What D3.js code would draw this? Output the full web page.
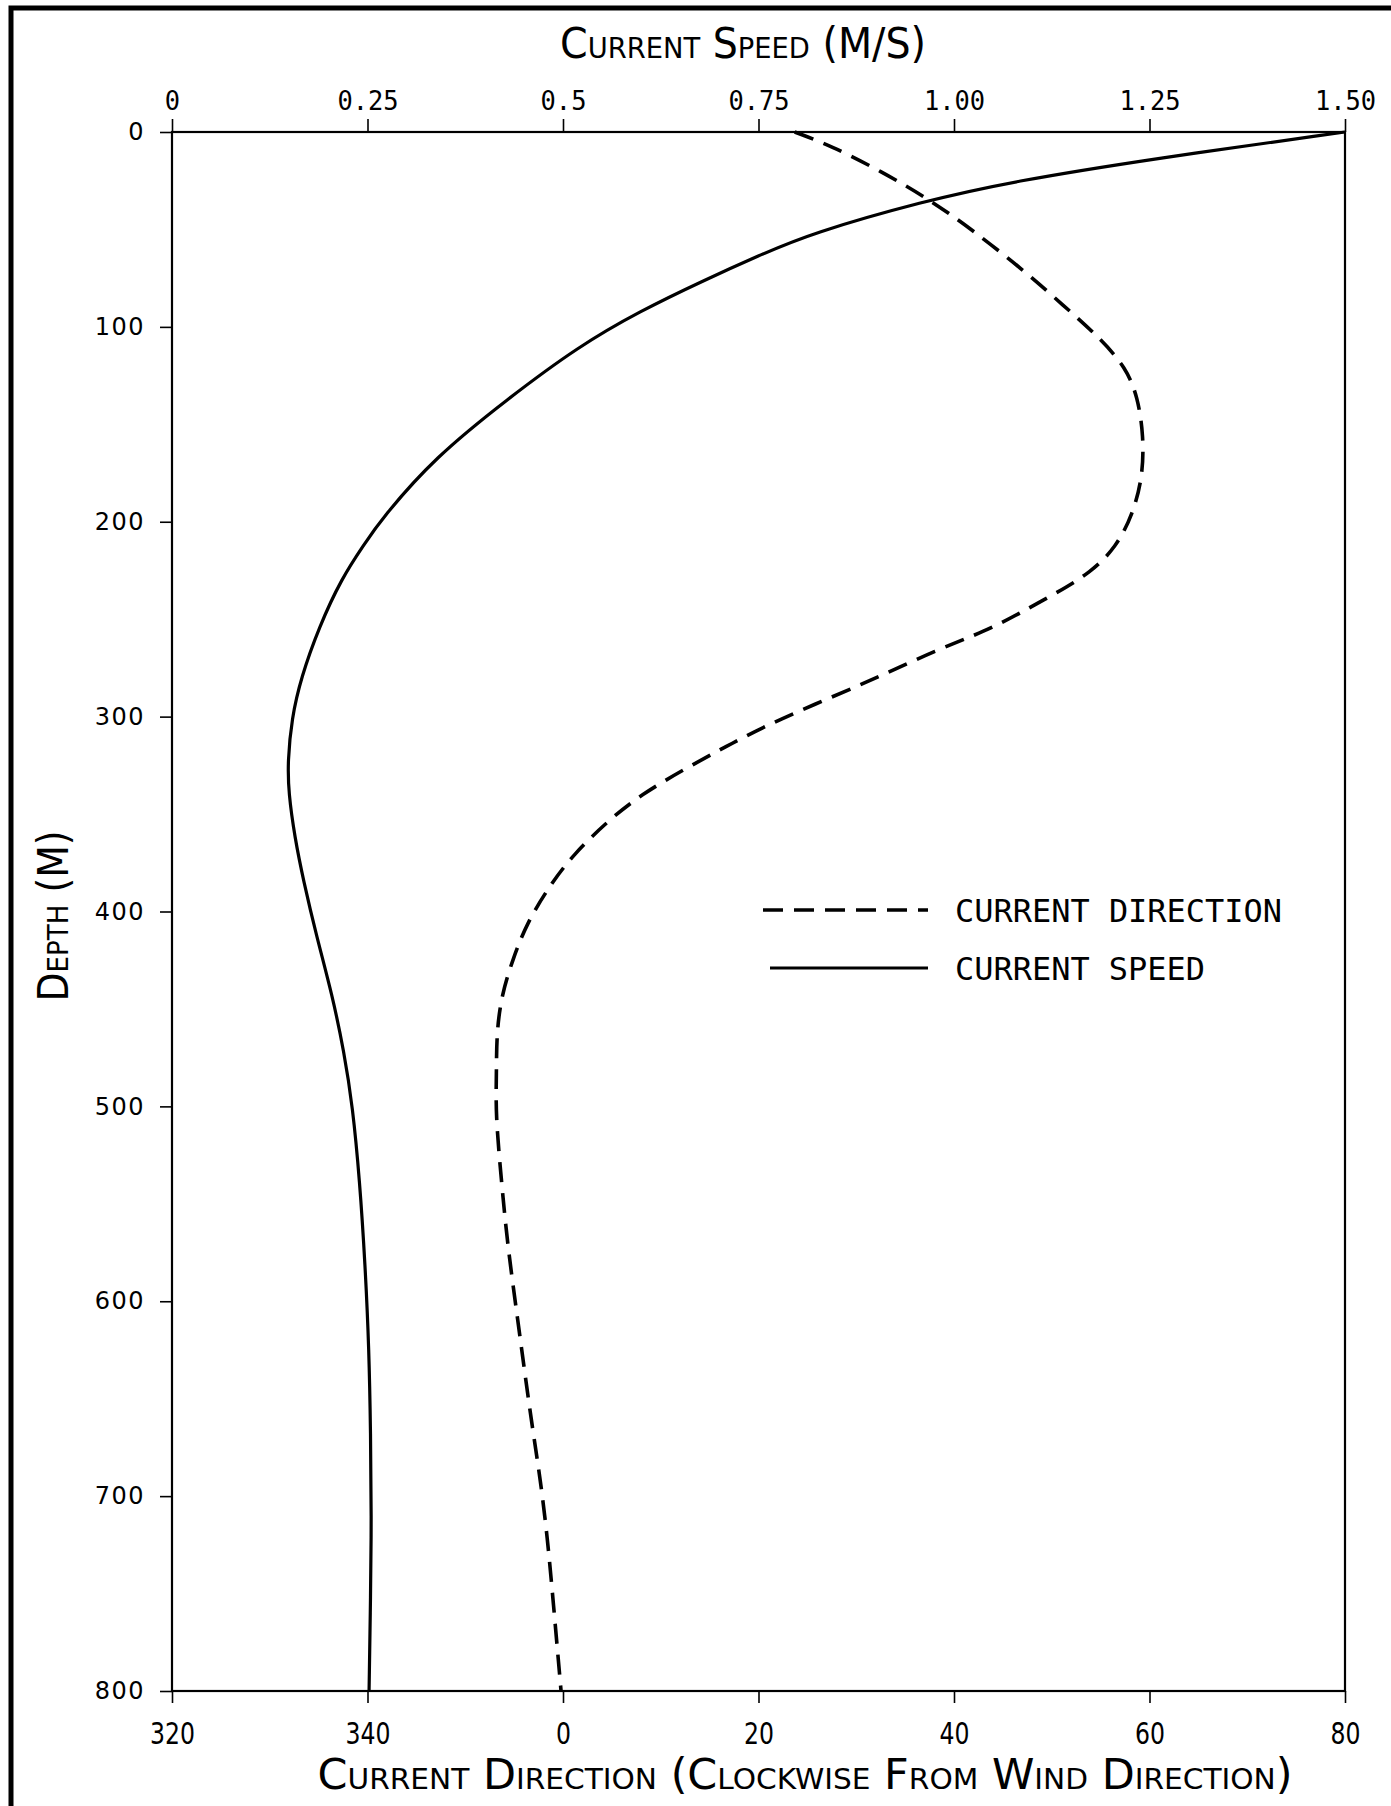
<!DOCTYPE html>
<html>
<head>
<meta charset="utf-8">
<script src="https://cdn.jsdelivr.net/npm/d3@7/dist/d3.min.js"></script>
<style>
  body { margin: 0; background: #fff; }
  svg { display: block; }
</style>
</head>
<body>
<div id="chart"></div>
<script>
// depth (m) and current speed (m/s)
const speedDepth = [0, 13.5, 25.5, 35.5, 52, 63.5, 76, 92, 110, 137, 167, 198, 212, 229, 254, 280, 301, 323, 339, 362, 384, 413, 443, 472, 500, 538, 581, 625, 668, 711, 750, 800];
const speedValue = [1.50, 1.258, 1.073, 0.961, 0.817, 0.750, 0.681, 0.598, 0.520, 0.429, 0.336, 0.269, 0.245, 0.217, 0.188, 0.165, 0.153, 0.148, 0.149, 0.157, 0.168, 0.185, 0.205, 0.220, 0.231, 0.240, 0.247, 0.252, 0.254, 0.255, 0.254, 0.252];

// depth (m) and current direction (deg clockwise from wind, 320 -> -40)
const dirDepth = [0, 7, 20, 35, 50, 70, 89, 106, 121, 136, 156, 177, 196, 213, 226, 236.5, 247, 256, 266, 279, 291, 304, 315, 327, 340, 353, 371, 387, 406, 424, 443, 463, 483, 504, 538, 570, 607, 637, 666, 692, 721, 754, 800];
const dirValue = [23.7, 27.4, 32.5, 37.6, 41.8, 46.9, 51.2, 55.0, 57.6, 58.8, 59.4, 59.3, 58.3, 56.6, 54.0, 50.5, 46.7, 43.3, 38.1, 32.6, 27.0, 21.0, 16.8, 12.4, 8.0, 4.7, 1.0, -1.4, -3.7, -5.1, -6.3, -6.8, -6.8, -6.9, -6.3, -5.7, -4.7, -3.9, -3.1, -2.3, -1.6, -1.0, -0.2];

const speedTicks = [0, 0.25, 0.5, 0.75, 1.0, 1.25, 1.5];
const speedTickLabels = ["0", "0.25", "0.5", "0.75", "1.00", "1.25", "1.50"];
const depthTicks = [0, 100, 200, 300, 400, 500, 600, 700, 800];
const dirTicks = [-40, -20, 0, 20, 40, 60, 80];
const dirTickLabels = ["320", "340", "0", "20", "40", "60", "80"];

const legendLabels = ["CURRENT DIRECTION", "CURRENT SPEED"];

const W = 1391, H = 1806;
const plotL = 172, plotR = 1345, plotT = 132, plotB = 1691;

const titleFont = "'Liberation Sans Narrow', 'DejaVu Sans Condensed', 'Roboto Condensed', 'Liberation Sans', sans-serif";
const monoFont = "'DejaVu Sans Mono', 'Liberation Mono', monospace";

const svg = d3.select("#chart").append("svg")
    .attr("width", W)
    .attr("height", H);

svg.append("rect").attr("width", W).attr("height", H).attr("fill", "#fff");

// page frame (left and top edge of the scanned sheet)
svg.append("path")
    .attr("d", "M11," + H + " L11,8 L" + W + ",8")
    .attr("fill", "none")
    .attr("stroke", "#000")
    .attr("stroke-width", 5);

const xSpeed = d3.scaleLinear().domain([0, 1.5]).range([plotL, plotR]);
const xDir = d3.scaleLinear().domain([-40, 80]).range([plotL, plotR]);
const yDepth = d3.scaleLinear().domain([0, 800]).range([plotT, plotB]);

// top axis: speed
const gTop = svg.append("g")
    .attr("transform", "translate(0," + plotT + ")")
    .call(d3.axisTop(xSpeed)
        .tickValues(speedTicks)
        .tickFormat((d, i) => speedTickLabels[i])
        .tickSize(13)
        .tickSizeOuter(0)
        .tickPadding(9));
gTop.selectAll("text")
    .attr("font-family", monoFont)
    .attr("font-size", 27)
    .attr("textLength", function () { return this.textContent.length * 15.3; })
    .attr("lengthAdjust", "spacingAndGlyphs");

// left axis: depth
const gLeft = svg.append("g")
    .attr("transform", "translate(" + plotL + ",0)")
    .call(d3.axisLeft(yDepth)
        .tickValues(depthTicks)
        .tickSize(12)
        .tickSizeOuter(0)
        .tickPadding(15));
gLeft.selectAll("text")
    .attr("font-family", "'DejaVu Sans', sans-serif")
    .attr("font-size", 24)
    .attr("letter-spacing", 1.5);

// bottom axis: direction
const gBottom = svg.append("g")
    .attr("transform", "translate(0," + plotB + ")")
    .call(d3.axisBottom(xDir)
        .tickValues(dirTicks)
        .tickFormat((d, i) => dirTickLabels[i])
        .tickSize(12)
        .tickSizeOuter(0));
gBottom.selectAll("text")
    .attr("dy", null)
    .attr("y", 53)
    .attr("font-family", titleFont)
    .attr("font-size", 30)
    .attr("textLength", function () { return this.textContent.length * 15; })
    .attr("lengthAdjust", "spacingAndGlyphs");

[gTop, gLeft, gBottom].forEach(g => {
    g.select(".domain").remove();
    g.selectAll(".tick line").attr("stroke", "#000").attr("stroke-width", 1.6);
    g.selectAll("text").attr("fill", "#000");
});

// plot frame
svg.append("rect")
    .attr("x", plotL)
    .attr("y", plotT)
    .attr("width", plotR - plotL)
    .attr("height", plotB - plotT)
    .attr("fill", "none")
    .attr("stroke", "#000")
    .attr("stroke-width", 2.2);

// curves
const speedLine = d3.line()
    .x((d, i) => xSpeed(speedValue[i]))
    .y(d => yDepth(d))
    .curve(d3.curveBasis);

const dirLine = d3.line()
    .x((d, i) => xDir(dirValue[i]))
    .y(d => yDepth(d))
    .curve(d3.curveBasis);

svg.append("path")
    .attr("d", dirLine(dirDepth))
    .attr("fill", "none")
    .attr("stroke", "#000")
    .attr("stroke-width", 3.6)
    .attr("stroke-dasharray", "20,11");

svg.append("path")
    .attr("d", speedLine(speedDepth))
    .attr("fill", "none")
    .attr("stroke", "#000")
    .attr("stroke-width", 3.2);

// axis titles
svg.append("text")
    .attr("x", 743)
    .attr("y", 58)
    .attr("text-anchor", "middle")
    .attr("font-family", titleFont)
    .attr("font-size", 42)
    .style("font-variant", "small-caps")
    .attr("textLength", 366)
    .attr("lengthAdjust", "spacingAndGlyphs")
    .text("Current Speed (M/S)");

svg.append("text")
    .attr("x", 805)
    .attr("y", 1789)
    .attr("text-anchor", "middle")
    .attr("font-family", titleFont)
    .attr("font-size", 42)
    .style("font-variant", "small-caps")
    .attr("textLength", 975)
    .attr("lengthAdjust", "spacingAndGlyphs")
    .text("Current Direction (Clockwise From Wind Direction)");

svg.append("text")
    .attr("transform", "translate(68,916) rotate(-90)")
    .attr("text-anchor", "middle")
    .attr("font-family", titleFont)
    .attr("font-size", 42)
    .style("font-variant", "small-caps")
    .attr("textLength", 171)
    .attr("lengthAdjust", "spacingAndGlyphs")
    .text("Depth (M)");

// legend
const legend = svg.append("g");
legend.append("line")
    .attr("x1", 763).attr("x2", 928)
    .attr("y1", 910).attr("y2", 910)
    .attr("stroke", "#000")
    .attr("stroke-width", 3.6)
    .attr("stroke-dasharray", "20,11");
legend.append("line")
    .attr("x1", 770).attr("x2", 928)
    .attr("y1", 968).attr("y2", 968)
    .attr("stroke", "#000")
    .attr("stroke-width", 3.2);
legend.append("text")
    .attr("x", 955).attr("y", 922)
    .attr("font-family", monoFont)
    .attr("font-size", 32)
    .attr("textLength", 327)
    .attr("lengthAdjust", "spacingAndGlyphs")
    .text(legendLabels[0]);
legend.append("text")
    .attr("x", 955).attr("y", 980)
    .attr("font-family", monoFont)
    .attr("font-size", 32)
    .attr("textLength", 250)
    .attr("lengthAdjust", "spacingAndGlyphs")
    .text(legendLabels[1]);
</script>
</body>
</html>
